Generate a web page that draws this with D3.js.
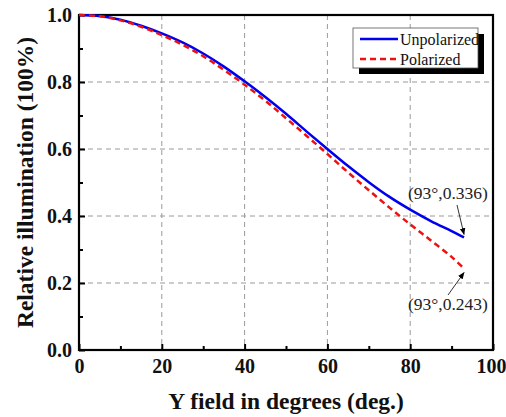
<!DOCTYPE html>
<html>
<head>
<meta charset="utf-8">
<script src="https://cdn.jsdelivr.net/npm/d3@7"></script>
<style>
  body { margin: 0; background: #fff; }
</style>
</head>
<body>
<div id="graf"></div>
<script>
// datos
const campo = [0, 5, 10, 15, 20, 25, 30, 35, 40, 45, 50, 55, 60, 65, 70, 75, 80, 85, 90, 93]
const unpolarized = [1.0, 0.997, 0.986, 0.968, 0.945, 0.918, 0.885, 0.846, 0.802, 0.755, 0.705, 0.652, 0.600, 0.549, 0.501, 0.457, 0.419, 0.385, 0.355, 0.336]
const polarized = [1.0, 0.996, 0.984, 0.965, 0.940, 0.911, 0.877, 0.836, 0.792, 0.744, 0.692, 0.639, 0.585, 0.530, 0.477, 0.425, 0.375, 0.327, 0.278, 0.243]
const xTicks = [0, 20, 40, 60, 80, 100]
const yTicks = [0.0, 0.2, 0.4, 0.6, 0.8, 1.0]
const series = ["Unpolarized", "Polarized"]

const fuente = '"Liberation Serif", "Times New Roman", serif'

const anchoTotal = 506
const altoTotal = 417
const margins = { top: 15, right: 13, bottom: 67, left: 79 }
const ancho = anchoTotal - margins.left - margins.right
const alto = altoTotal - margins.top - margins.bottom

const svg = d3.select("#graf")
  .append("svg")
  .attr("width", anchoTotal)
  .attr("height", altoTotal)

const g = svg.append("g")
  .attr("transform", `translate(${margins.left}, ${margins.top})`)

const x = d3.scaleLinear().domain([0, 100]).range([0, ancho])
const y = d3.scaleLinear().domain([0, 1]).range([alto, 0])

// rejilla
g.append("g")
  .selectAll("line")
  .data(xTicks.filter((d) => d > 0 && d < 100))
  .join("line")
  .attr("x1", (d) => x(d)).attr("x2", (d) => x(d))
  .attr("y1", 0).attr("y2", alto)
  .attr("stroke", "#9a9a9a").attr("stroke-width", 1)
  .attr("stroke-dasharray", "5,4")
g.append("g")
  .selectAll("line")
  .data(yTicks.filter((d) => d > 0 && d < 1))
  .join("line")
  .attr("x1", 0).attr("x2", ancho)
  .attr("y1", (d) => y(d)).attr("y2", (d) => y(d))
  .attr("stroke", "#9a9a9a").attr("stroke-width", 1)
  .attr("stroke-dasharray", "5,4")

// ejes
const xAxis = d3.axisBottom(x).tickValues(xTicks).tickSize(-6).tickPadding(9).tickFormat(d3.format("d"))
const xAxisGroup = g.append("g")
  .attr("transform", `translate(0, ${alto})`)
  .call(xAxis)
xAxisGroup.select(".domain").remove()
xAxisGroup.selectAll("line").attr("stroke-width", 2)
xAxisGroup.selectAll("text")
  .style("font-family", fuente).style("font-size", "20px").style("font-weight", "bold")
  .attr("fill", "#111")
  .attr("dx", (d) => (d === 100 ? -2 : 0))

const xMinor = d3.axisBottom(x).tickValues([10, 30, 50, 70, 90]).tickSize(-4).tickFormat("")
g.append("g").attr("transform", `translate(0, ${alto})`).call(xMinor)
  .call((s) => s.select(".domain").remove())
  .selectAll("line").attr("stroke-width", 2)

const yAxis = d3.axisLeft(y).tickValues(yTicks).tickSize(-6).tickPadding(7).tickFormat(d3.format(".1f"))
const yAxisGroup = g.append("g").call(yAxis)
yAxisGroup.select(".domain").remove()
yAxisGroup.selectAll("line").attr("stroke-width", 2)
yAxisGroup.selectAll("text")
  .style("font-family", fuente).style("font-size", "20px").style("font-weight", "bold")
  .attr("fill", "#111")

const yMinor = d3.axisLeft(y).tickValues([0.1, 0.3, 0.5, 0.7, 0.9]).tickSize(-4).tickFormat("")
g.append("g").call(yMinor)
  .call((s) => s.select(".domain").remove())
  .selectAll("line").attr("stroke-width", 2)

// marco
g.append("rect")
  .attr("x", 0).attr("y", 0)
  .attr("width", ancho).attr("height", alto)
  .attr("fill", "none").attr("stroke", "#000").attr("stroke-width", 2.2)

// curvas
const linea = (valores) => d3.line()
  .x((d, i) => x(campo[i]))
  .y((d) => y(d))
  .curve(d3.curveCatmullRom)(valores)

g.append("path")
  .attr("d", linea(unpolarized))
  .attr("fill", "none").attr("stroke", "#0000ee").attr("stroke-width", 2.5)
g.append("path")
  .attr("d", linea(polarized))
  .attr("fill", "none").attr("stroke", "#ee1111").attr("stroke-width", 2.5)
  .attr("stroke-dasharray", "6,4")

// anotaciones
svg.append("defs").append("marker")
  .attr("id", "flecha")
  .attr("viewBox", "0 0 10 10")
  .attr("refX", 9).attr("refY", 5)
  .attr("markerWidth", 7).attr("markerHeight", 7)
  .attr("orient", "auto")
  .append("path").attr("d", "M0,1 L10,5 L0,9 Z").attr("fill", "#000")

const ultimo = campo.length - 1
const notas = [
  { texto: "(93°,0.336)", valor: unpolarized[ultimo], tx: 448, ty: 199, ax: 457, ay: 205 },
  { texto: "(93°,0.243)", valor: polarized[ultimo], tx: 448, ty: 310, ax: 448, ay: 295 },
]
notas.forEach((n) => {
  const px = margins.left + x(campo[ultimo])
  const py = margins.top + y(n.valor)
  svg.append("line")
    .attr("x1", n.ax).attr("y1", n.ay)
    .attr("x2", px).attr("y2", py + (n.ay < py ? -3 : 4))
    .attr("stroke", "#333").attr("stroke-width", 1)
    .attr("marker-end", "url(#flecha)")
  svg.append("text")
    .attr("x", n.tx).attr("y", n.ty)
    .attr("text-anchor", "middle")
    .style("font-family", fuente).style("font-size", "17.5px")
    .attr("fill", "#222")
    .text(n.texto)
})

// leyenda
const leg = svg.append("g").attr("transform", "translate(353, 28)")
leg.append("rect").attr("x", 6).attr("y", 6).attr("width", 125).attr("height", 40).attr("fill", "#000")
leg.append("rect").attr("x", 0).attr("y", 0).attr("width", 125).attr("height", 40)
  .attr("fill", "#fff").attr("stroke", "#555").attr("stroke-width", 0.8)
series.forEach((s, i) => {
  const yy = 11 + i * 20
  leg.append("line")
    .attr("x1", 7).attr("x2", 45).attr("y1", yy).attr("y2", yy)
    .attr("stroke", i === 0 ? "#0000ee" : "#ee1111").attr("stroke-width", 2.5)
    .attr("stroke-dasharray", i === 0 ? null : "6,4")
  leg.append("text")
    .attr("x", 47).attr("y", yy + 6)
    .style("font-family", fuente).style("font-size", "16px")
    .attr("fill", "#111")
    .text(s)
})

// titulos de ejes
svg.append("text")
  .attr("x", margins.left + ancho / 2).attr("y", 409)
  .attr("text-anchor", "middle")
  .style("font-family", fuente).style("font-size", "23.5px").style("font-weight", "bold")
  .attr("fill", "#111")
  .text("Y field in degrees (deg.)")
svg.append("text")
  .attr("transform", `translate(33, ${margins.top + alto / 2}) rotate(-90)`)
  .attr("text-anchor", "middle")
  .style("font-family", fuente).style("font-size", "23.5px").style("font-weight", "bold")
  .attr("fill", "#111")
  .text("Relative illumination (100%)")
</script>
</body>
</html>
